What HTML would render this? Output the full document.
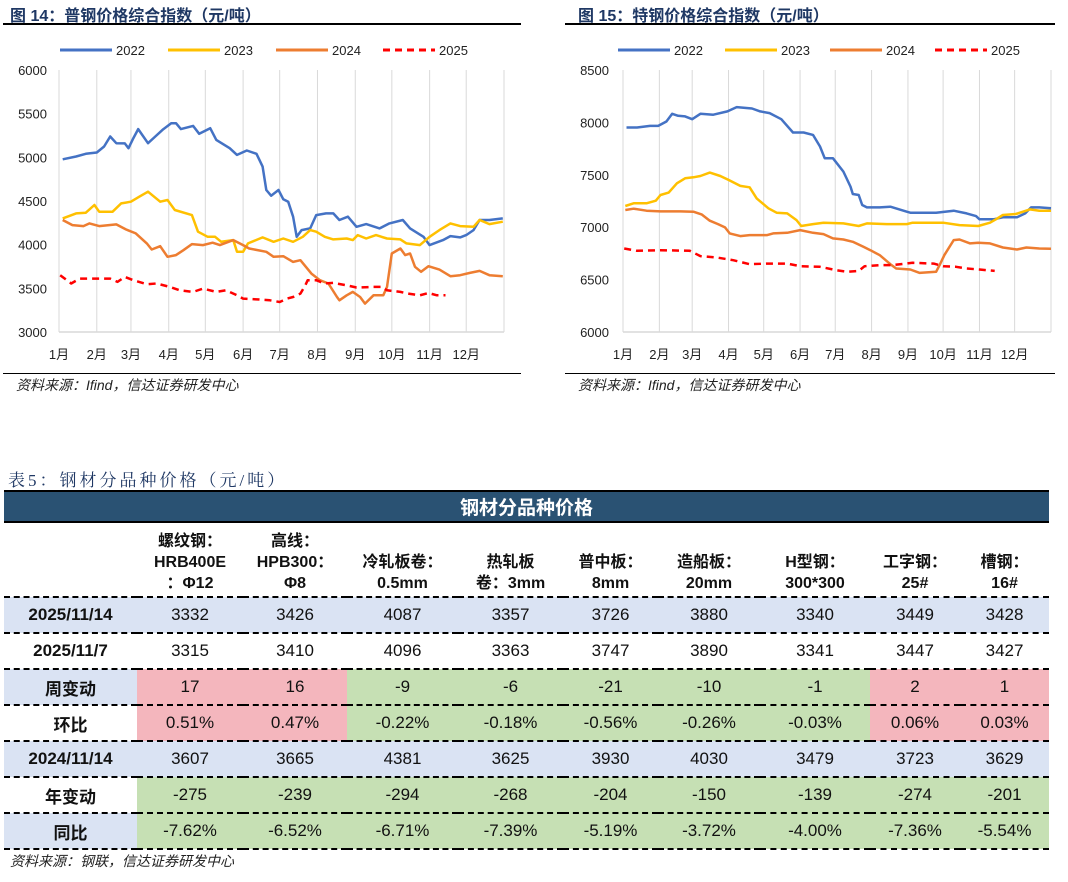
<!DOCTYPE html>
<html><head><meta charset="utf-8">
<style>
body{margin:0;width:1068px;height:882px;background:#fff;position:relative;overflow:hidden;font-family:"Liberation Sans","Noto Sans CJK SC",sans-serif;}
.abs{position:absolute;white-space:nowrap}
.ttl{font-size:16px;font-weight:bold;color:#1f3864;}
.src{font-size:14px;font-style:italic;color:#222;}
.hl{position:absolute;height:2px;background:#000}
table{position:absolute;left:4px;top:492px;width:1045px;border-collapse:collapse;table-layout:fixed;font-size:17px;color:#111}
td{text-align:center;padding:0;height:34px;border-bottom:2px dashed #000}
.hdr td{background:#2a5273;color:#fff;font-weight:bold;font-size:19px;height:29px;border-bottom:2px solid #000}
.sub td{height:71px;font-weight:bold;font-size:16px;line-height:21px;vertical-align:bottom;padding-bottom:2px}
.lab{font-weight:bold}
.b{background:#dae3f3}.p{background:#f4b6bd}.g{background:#c6e0b4}
</style></head><body>
<div class="abs ttl" style="left:10px;top:2px">图 14：普钢价格综合指数（元/吨）</div>
<div class="hl" style="left:3px;top:23px;width:518px"></div>
<div class="abs ttl" style="left:578px;top:2px">图 15：特钢价格综合指数（元/吨）</div>
<div class="hl" style="left:565px;top:23px;width:490px"></div>
<svg id="c14" class="abs" style="left:0;top:30px" width="530" height="340"></svg>
<svg id="c15" class="abs" style="left:560px;top:30px" width="508" height="340"></svg>
<div class="hl" style="left:3px;top:373px;width:518px;height:1px"></div>
<div class="hl" style="left:565px;top:373px;width:490px;height:1px"></div>
<div class="abs src" style="left:16px;top:375px">资料来源：Ifind，信达证券研发中心</div>
<div class="abs src" style="left:578px;top:375px">资料来源：Ifind，信达证券研发中心</div>
<div class="abs" style="left:8px;top:466px;font-size:17px;color:#1f3864;font-family:'Liberation Serif','Noto Serif CJK SC',serif;letter-spacing:3px">表5：钢材分品种价格（元/吨）</div>
<div class="hl" style="left:4px;top:490px;width:1045px"></div>
<table>
<colgroup><col style="width:133px"><col style="width:106px"><col style="width:104px"><col style="width:111px"><col style="width:105px"><col style="width:95px"><col style="width:102px"><col style="width:110px"><col style="width:90px"><col style="width:89px"></colgroup>
<tr class="hdr"><td colspan="10">钢材分品种价格</td></tr>
<tr class="sub"><td></td><td>螺纹钢：<br>HRB400E<br>：Φ12</td><td>高线：<br>HPB300：<br>Φ8</td><td>冷轧板卷：<br>0.5mm</td><td>热轧板<br>卷：3mm</td><td>普中板：<br>8mm</td><td>造船板：<br>20mm</td><td>H型钢：<br>300*300</td><td>工字钢：<br>25#</td><td>槽钢：<br>16#</td></tr>
<tr class="b"><td class="lab">2025/11/14</td><td>3332</td><td>3426</td><td>4087</td><td>3357</td><td>3726</td><td>3880</td><td>3340</td><td>3449</td><td>3428</td></tr>
<tr><td class="lab">2025/11/7</td><td>3315</td><td>3410</td><td>4096</td><td>3363</td><td>3747</td><td>3890</td><td>3341</td><td>3447</td><td>3427</td></tr>
<tr><td class="lab b">周变动</td><td class="p">17</td><td class="p">16</td><td class="g">-9</td><td class="g">-6</td><td class="g">-21</td><td class="g">-10</td><td class="g">-1</td><td class="p">2</td><td class="p">1</td></tr>
<tr><td class="lab">环比</td><td class="p">0.51%</td><td class="p">0.47%</td><td class="g">-0.22%</td><td class="g">-0.18%</td><td class="g">-0.56%</td><td class="g">-0.26%</td><td class="g">-0.03%</td><td class="p">0.06%</td><td class="p">0.03%</td></tr>
<tr class="b"><td class="lab">2024/11/14</td><td>3607</td><td>3665</td><td>4381</td><td>3625</td><td>3930</td><td>4030</td><td>3479</td><td>3723</td><td>3629</td></tr>
<tr><td class="lab">年变动</td><td class="g">-275</td><td class="g">-239</td><td class="g">-294</td><td class="g">-268</td><td class="g">-204</td><td class="g">-150</td><td class="g">-139</td><td class="g">-274</td><td class="g">-201</td></tr>
<tr><td class="lab b">同比</td><td class="g">-7.62%</td><td class="g">-6.52%</td><td class="g">-6.71%</td><td class="g">-7.39%</td><td class="g">-5.19%</td><td class="g">-3.72%</td><td class="g">-4.00%</td><td class="g">-7.36%</td><td class="g">-5.54%</td></tr>
</table>
<div class="abs src" style="left:10px;top:851px">资料来源：钢联，信达证券研发中心</div>
<script>
const months=["1月","2月","3月","4月","5月","6月","7月","8月","9月","10月","11月","12月"];
const years=["2022","2023","2024","2025"];
const ticks14=[3000,3500,4000,4500,5000,5500,6000];
const ticks15=[6000,6500,7000,7500,8000,8500];
const d14_2022=[3,14,22,31,37,42,47,54,57,61,65,73,79,85,92,96,100,110,115,124,129,140,146,154,162,167,170,174,180,184,188,192,195,199,206,211,219,225,230,237,244,252,263,271,282,288,299,304,315,321,329,334,340,345,353,364];
const v14_2022=[4978,5009,5040,5055,5124,5238,5162,5160,5105,5220,5323,5162,5238,5315,5391,5391,5323,5360,5269,5334,5200,5105,5028,5078,5040,4894,4626,4561,4626,4519,4492,4320,4090,4167,4186,4339,4358,4358,4282,4320,4205,4236,4186,4243,4282,4186,4090,3995,4052,4098,4083,4110,4167,4282,4282,4301];
const d14_2023=[3,14,22,29,33,44,51,59,66,73,83,89,95,109,114,122,128,133,143,146,151,155,167,176,184,192,200,206,211,218,225,236,241,245,252,260,269,280,285,296,304,312,321,329,340,345,353,364];
const v14_2023=[4301,4358,4366,4454,4377,4377,4473,4492,4550,4607,4492,4511,4397,4339,4148,4090,4090,4033,4052,3918,3918,4014,4083,4033,4071,4033,4090,4167,4148,4090,4060,4071,4052,4110,4071,4110,4071,4060,4014,3995,4090,4167,4243,4213,4205,4282,4236,4263];
const d14_2024=[3,11,20,25,33,47,55,63,72,76,83,89,96,102,109,118,126,132,143,151,156,170,176,184,192,198,207,214,221,228,230,236,241,247,251,258,266,269,273,280,284,288,292,297,303,312,321,329,337,345,353,364];
const v14_2024=[4282,4224,4213,4243,4213,4232,4174,4129,4014,3945,3983,3861,3880,3937,4006,3995,4022,3995,4052,3995,3956,3918,3861,3868,3803,3822,3669,3593,3555,3401,3363,3420,3459,3401,3325,3420,3420,3516,3899,3956,3880,3899,3746,3689,3754,3715,3639,3650,3677,3700,3650,3639];
const d14_2025=[1,10,17,33,42,48,54,61,72,80,91,99,110,118,129,137,146,151,165,173,181,187,192,198,202,204,211,218,225,236,244,258,265,269,280,286,296,303,310,317];
const v14_2025=[3650,3555,3612,3612,3612,3574,3631,3593,3547,3555,3516,3478,3459,3497,3459,3478,3420,3382,3371,3363,3344,3382,3401,3440,3535,3593,3593,3555,3562,3535,3509,3516,3516,3478,3459,3440,3420,3447,3420,3420];
const d15_2022=[3,12,23,30,37,42,47,53,59,66,77,89,97,110,117,125,135,145,154,162,168,172,179,188,194,196,201,204,208,219,228,242,245,259,267,282,293,301,304,316,324,336,343,348,355,365];
const v15_2022=[7951,7951,7967,7967,8009,8082,8063,8057,8031,8082,8073,8105,8146,8133,8105,8089,8031,7904,7904,7881,7770,7658,7658,7531,7387,7317,7307,7212,7189,7189,7196,7148,7138,7138,7138,7157,7132,7106,7075,7075,7094,7094,7132,7189,7189,7180];
const d15_2023=[2,9,20,28,32,39,46,53,60,66,74,83,90,100,108,114,124,131,140,148,152,162,171,188,201,208,225,242,247,259,273,287,303,313,318,324,335,347,355,365];
const v15_2023=[7202,7228,7228,7253,7307,7330,7419,7467,7476,7489,7521,7489,7451,7394,7381,7275,7180,7138,7132,7068,7011,7030,7043,7036,7011,7036,7030,7030,7043,7043,7043,7020,7011,7043,7075,7116,7126,7170,7157,7157];
const d15_2024=[2,9,20,32,49,60,67,74,81,87,91,100,108,123,128,140,151,162,171,179,188,196,205,211,219,228,233,245,253,267,270,274,282,287,296,303,313,324,336,344,355,365];
const v15_2024=[7164,7177,7157,7151,7151,7148,7122,7062,7030,6998,6941,6915,6925,6925,6941,6947,6972,6947,6934,6893,6883,6861,6813,6781,6733,6647,6606,6596,6564,6574,6638,6733,6877,6883,6845,6851,6845,6806,6787,6806,6797,6794];
const d15_2025=[1,12,32,57,66,80,94,108,123,140,151,168,182,191,201,206,219,230,247,265,273,284,293,304,317];
const v15_2025=[6797,6775,6781,6775,6724,6711,6685,6647,6653,6653,6628,6622,6590,6574,6583,6628,6638,6638,6660,6653,6628,6622,6606,6596,6583];

const colors=["#4472c4","#ffc000","#ed7d31","#ff0000"];
const NS="http://www.w3.org/2000/svg";
function mk(svg,tag,attrs){const e=document.createElementNS(NS,tag);for(const k in attrs)e.setAttribute(k,attrs[k]);svg.appendChild(e);return e;}
function draw(id,cfg,series,ticks,prefix){
  const svg=document.getElementById(id);
  const x=d=>cfg.x0+d/365*(cfg.x1-cfg.x0);
  const y=v=>cfg.y1-(v-ticks[0])/(ticks[ticks.length-1]-ticks[0])*(cfg.y1-cfg.y0);
  const mStart=[0,31,59,90,120,151,181,212,243,273,304,334,365];
  mStart.forEach((d,i)=>{
    const g=mk(svg,'line',{x1:x(d),x2:x(d),y1:cfg.y0,y2:cfg.y1,stroke:'#d9d9d9','stroke-width':1});
    
    
  });
  const ax=mk(svg,'line',{x1:cfg.x0,x2:cfg.x1,y1:cfg.y1,y2:cfg.y1,stroke:'#d9d9d9','stroke-width':1.5});
  
  
  ticks.forEach(t=>{
    const tx=mk(svg,'text',{x:cfg.lx,y:y(t)+5,'text-anchor':'end','font-size':13,fill:'#222'});
    tx.textContent=t;
    
    
  });
  months.forEach((m,i)=>{
    const tx=mk(svg,'text',{x:x(mStart[i]),y:cfg.y1+27,'text-anchor':'middle','font-size':13,fill:'#222'});
    tx.textContent=m;
    
    
  });
  series.forEach((s,i)=>{
    const pts=s[0].map((d,j)=>x(d).toFixed(1)+','+y(s[1][j]).toFixed(1)).join(' ');
    const attrs={points:pts,fill:'none',stroke:colors[i],'stroke-width':2.5,'stroke-linejoin':'round'};
    if(i===3)attrs['stroke-dasharray']='7,5';
    const pl=mk(svg,'polyline',attrs);
    
    
    const lx=cfg.legX[i];
    const la=mk(svg,'line',{x1:lx,x2:lx+52,y1:20,y2:20,stroke:colors[i],'stroke-width':3});
    if(i===3)la.setAttribute('stroke-dasharray','7,5');
    
    
    const lt=mk(svg,'text',{x:lx+56,y:25,'font-size':13,fill:'#222'});
    lt.textContent=years[i];
    
    
  });
}
draw('c14',{x0:59,x1:504,y0:40,y1:302,lx:47,legX:[60,168,276,383]},
 [[d14_2022,v14_2022],[d14_2023,v14_2023],[d14_2024,v14_2024],[d14_2025,v14_2025]],ticks14,'chart14');
draw('c15',{x0:63,x1:491,y0:40,y1:302,lx:49,legX:[58,165,270,375]},
 [[d15_2022,v15_2022],[d15_2023,v15_2023],[d15_2024,v15_2024],[d15_2025,v15_2025]],ticks15,'chart15');
</script>
</body></html>
